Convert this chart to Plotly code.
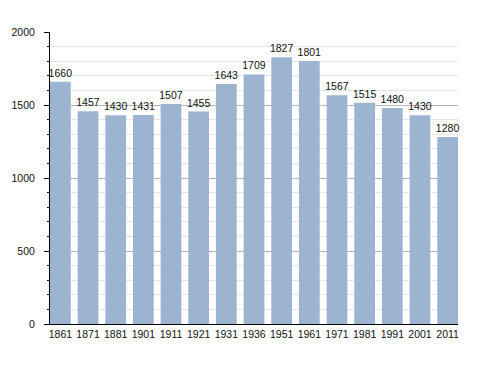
import plotly.graph_objects as go

years = ["1861", "1871", "1881", "1901", "1911", "1921", "1931", "1936",
         "1951", "1961", "1971", "1981", "1991", "2001", "2011"]
population = [1660, 1457, 1430, 1431, 1507, 1455, 1643, 1709,
              1827, 1801, 1567, 1515, 1480, 1430, 1280]
y_ticks = [0, 500, 1000, 1500, 2000]

positions = list(range(len(years)))

fig = go.Figure(go.Bar(
    x=positions,
    y=population,
    width=0.75,
    marker=dict(color="#9db4d0", line=dict(width=0)),
    text=[str(v) for v in population],
    textposition="outside",
    constraintext="none",
    textfont=dict(family="Liberation Sans, Arial, sans-serif", size=10.5, color="#111"),
    cliponaxis=False,
    hoverinfo="skip",
))

fig.update_layout(
    width=488, height=373,
    margin=dict(l=50, r=30, t=32, b=49),
    paper_bgcolor="white", plot_bgcolor="white",
    showlegend=False,
    font=dict(family="Liberation Sans, Arial, sans-serif", size=10.5, color="#111"),
    xaxis=dict(
        range=[-0.375, len(years) - 1 + 0.375],
        tickmode="array", tickvals=positions, ticktext=years,
        showgrid=False, zeroline=False,
        showline=True, linecolor="black", linewidth=1,
        ticks="", ticklabelstandoff=0,
        fixedrange=True,
    ),
    yaxis=dict(
        range=[0, 2000],
        tickmode="array", tickvals=y_ticks,
        showgrid=True, gridcolor="#b4b4b4", gridwidth=1,
        zeroline=False,
        showline=True, linecolor="black", linewidth=1,
        ticks="outside", ticklen=5, tickcolor="black", tickwidth=1,
        ticklabelstandoff=7,
        minor=dict(dtick=100, ticks="outside", ticklen=2.5, tickcolor="black",
                   showgrid=True, gridcolor="#e6e6e6", gridwidth=1),
        fixedrange=True,
    ),
)

fig.write_html(
    "out.html",
    config={"displayModeBar": False},
    post_script="document.body.style.margin='0';document.body.style.overflow='hidden';",
)
